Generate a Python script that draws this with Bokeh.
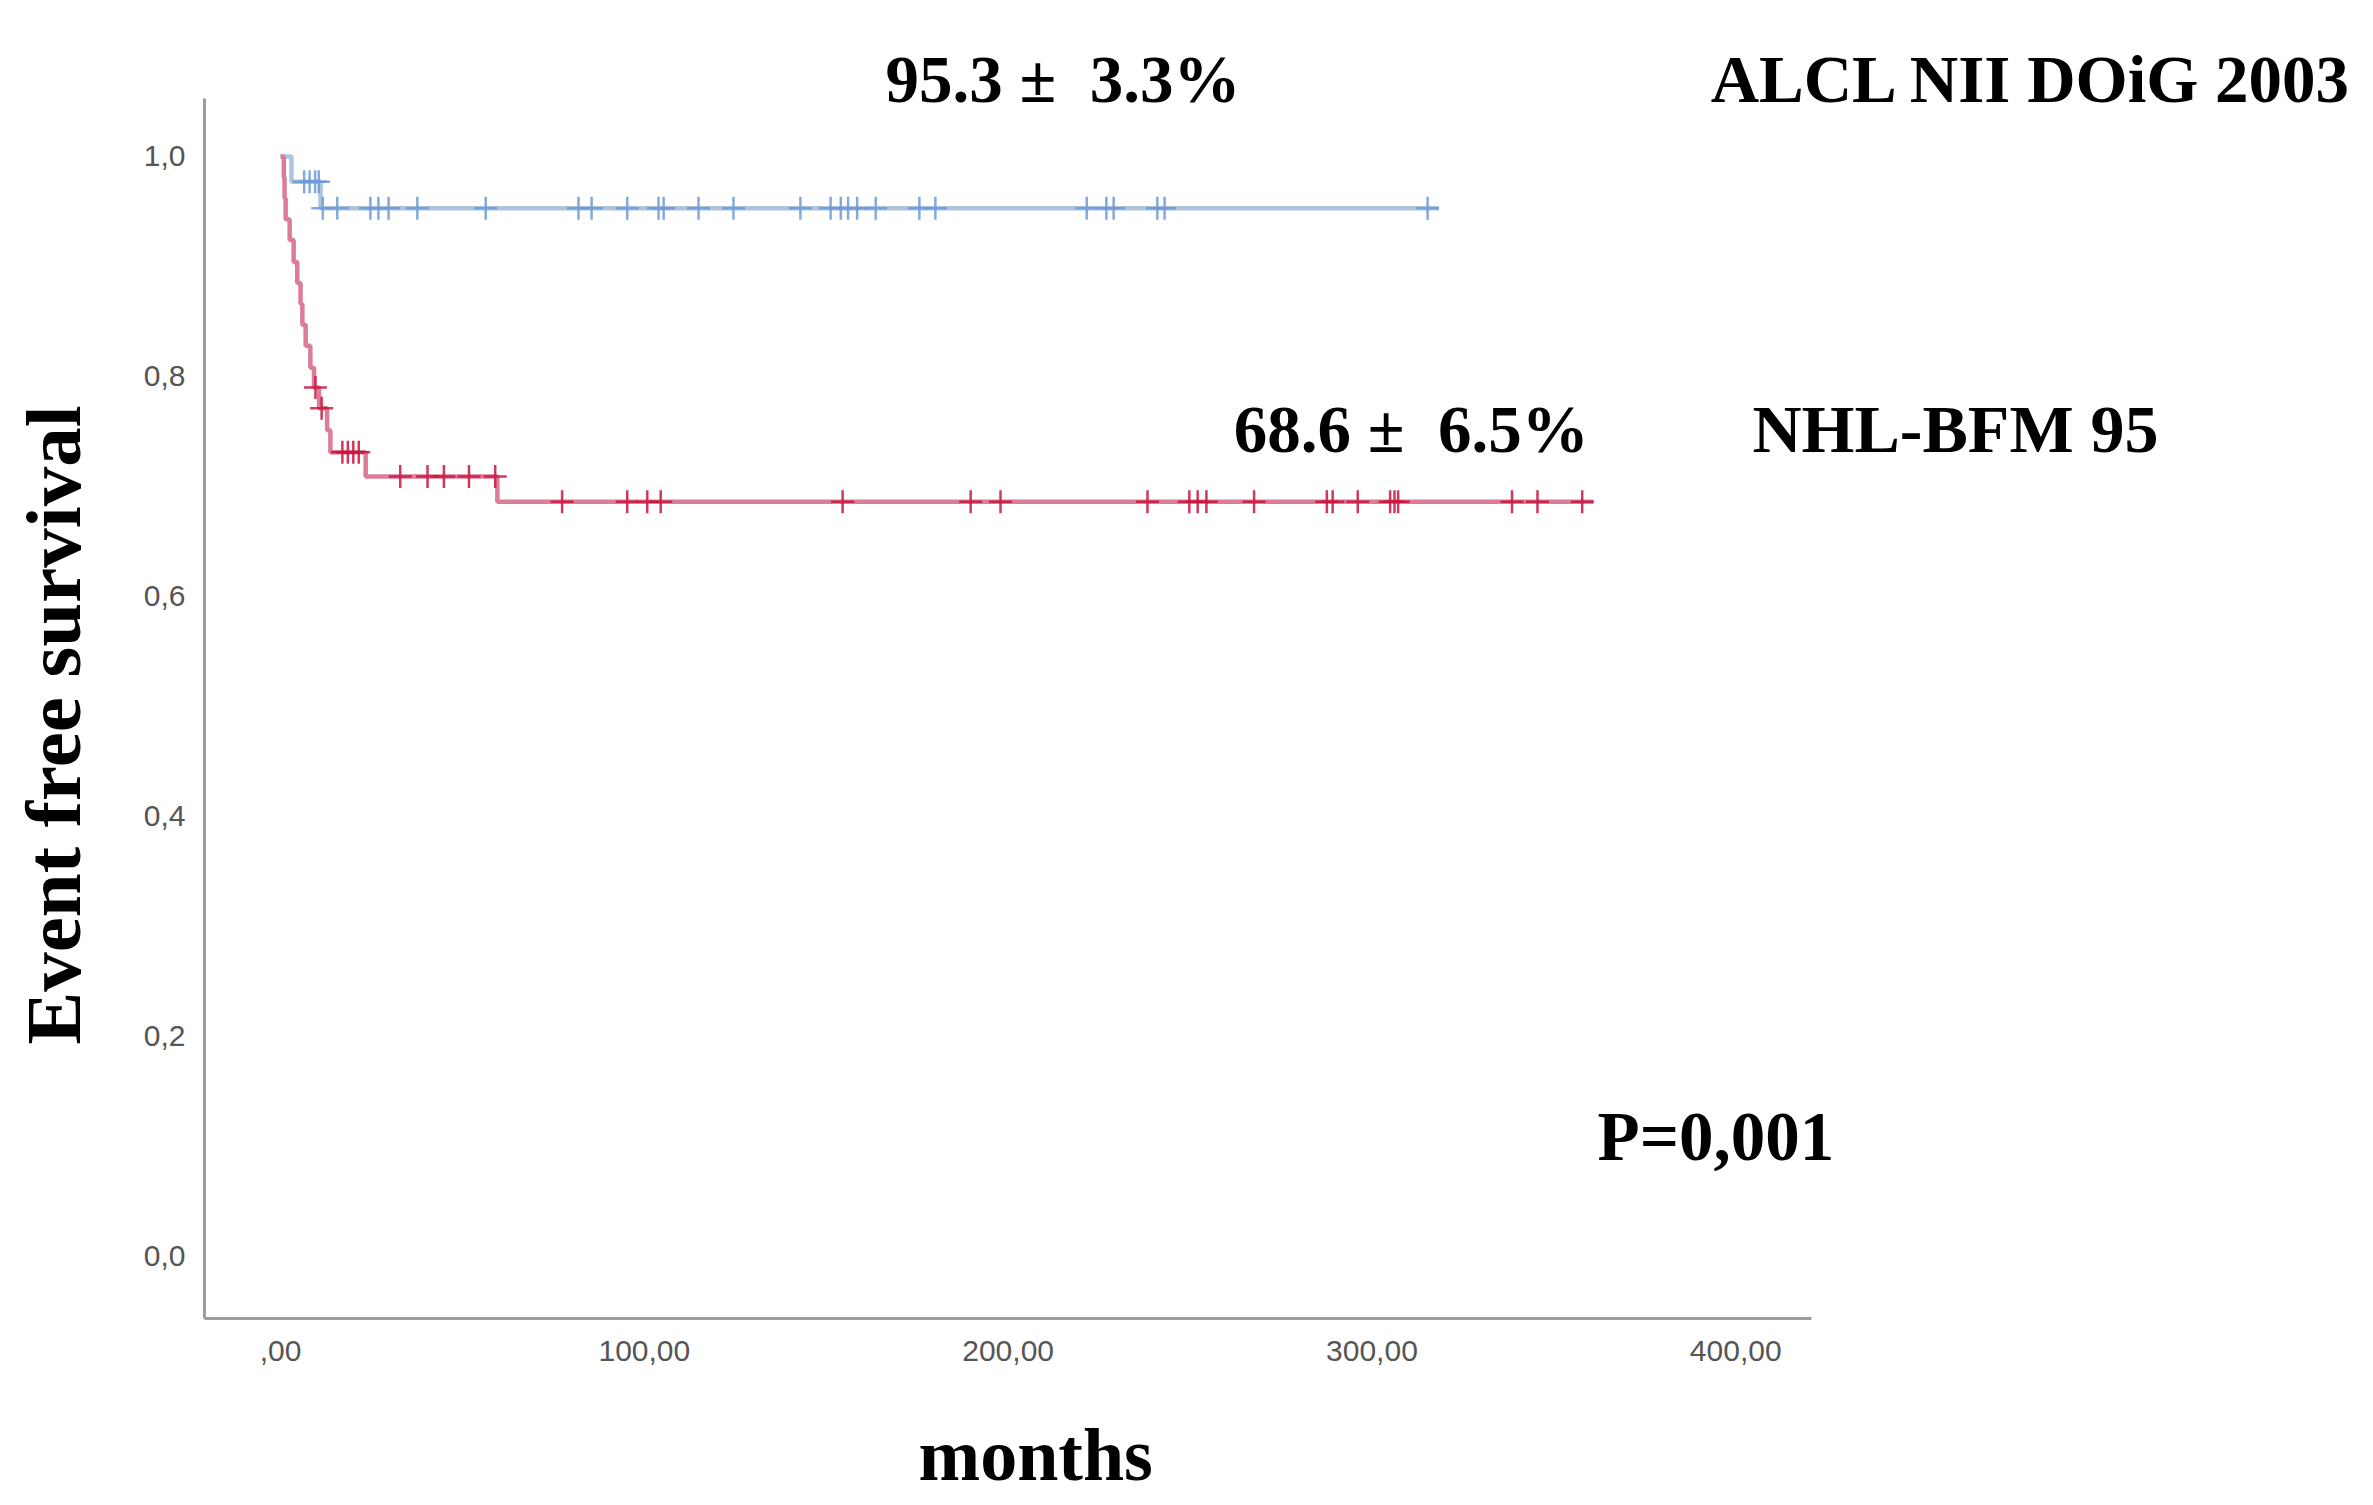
import numpy as np
from bokeh.plotting import figure
from bokeh.models import Range1d, FixedTicker, Label, Title
from bokeh.embed import file_html
from bokeh.resources import INLINE

# ---------------- data ----------------
# ALCL NII DOiG 2003 (blue)
blue_event_times = [0.0, 3.0, 11.0]
blue_surv = [1.0, 0.977, 0.953]
blue_end = 318.4
blue_cens_1 = [6.5, 8.0, 9.5, 10.5]                 # censored at 0.977
blue_cens_2 = [11.6, 15.6, 24.7, 26.9, 29.7, 37.6, 56.4, 81.9, 85.5, 95.3,
               103.9, 105.3, 114.9, 124.5, 142.9, 151.2, 154.0, 156.0, 158.5,
               163.6, 175.6, 180.0, 221.6, 227.0, 229.0, 241.0, 243.0, 315.3]

# NHL-BFM 95 (red)
red_event_times = [0.0, 0.9, 1.1, 1.4, 2.5, 3.6, 4.6, 5.5, 6.0, 6.9, 8.2,
                   9.2, 10.6, 12.8, 13.7, 23.4, 59.6]
red_surv = [1.0, 0.981, 0.962, 0.943, 0.924, 0.904, 0.885, 0.866, 0.847,
            0.828, 0.808, 0.790, 0.771, 0.751, 0.731, 0.709, 0.686]
red_end = 360.9
red_cens_times = [9.6, 11.3, 17.0, 18.5, 20.0, 21.5, 32.9, 40.4, 44.9, 51.8,
                  59.0, 77.4, 95.3, 100.8, 104.5, 154.5, 189.7, 197.9, 238.3,
                  249.8, 252.1, 254.5, 267.6, 287.6, 289.2, 296.1, 305.0,
                  306.2, 307.2, 338.5, 345.5, 357.8]

x_ticks = [0, 100, 200, 300, 400]
x_tick_labels = [",00", "100,00", "200,00", "300,00", "400,00"]
y_ticks = [0.0, 0.2, 0.4, 0.6, 0.8, 1.0]
y_tick_labels = ["0,0", "0,2", "0,4", "0,6", "0,8", "1,0"]

x_axis_bounds = (-20.9, 420.8)
y_axis_bounds = (-0.0564, 1.0527)


def km_level(t, times, surv):
    idx = np.searchsorted(np.asarray(times), t, side="right") - 1
    return float(surv[max(idx, 0)])


# ---------------- figure ----------------
W, H = 2373, 1505
p = figure(width=W, height=H, output_backend="svg", toolbar_location=None,
           title=None,
           x_range=Range1d(-20.9, 575.3), y_range=Range1d(-0.0564, 1.1418),
           min_border_left=204, min_border_right=0,
           min_border_top=0, min_border_bottom=187)
p.background_fill_color = "white"
p.border_fill_color = "white"
p.outline_line_color = None
p.grid.visible = False

for ax in (p.xaxis[0], p.yaxis[0]):
    ax.axis_line_color = "#9c9c9c"
    ax.axis_line_width = 3
    ax.major_tick_line_color = None
    ax.minor_tick_line_color = None
    ax.major_tick_out = 0
    ax.major_tick_in = 0
    ax.major_label_text_font = "Liberation Sans"
    ax.major_label_text_font_size = "30px"
    ax.major_label_text_color = "#555555"

p.xaxis[0].bounds = x_axis_bounds
p.xaxis[0].ticker = FixedTicker(ticks=x_ticks)
p.xaxis[0].major_label_overrides = {t: l for t, l in zip(x_ticks, x_tick_labels)}
p.xaxis[0].major_label_standoff = 22
p.yaxis[0].bounds = y_axis_bounds
p.yaxis[0].ticker = FixedTicker(ticks=y_ticks)
p.yaxis[0].major_label_overrides = {t: l for t, l in zip(y_ticks, y_tick_labels)}
p.yaxis[0].major_label_standoff = 19

# ---------------- curves ----------------
bx = list(blue_event_times) + [blue_end]
by = list(blue_surv) + [blue_surv[-1]]
p.step(bx, by, mode="after", line_color="#aec3e2", line_width=4.5)

rx = list(red_event_times) + [red_end]
ry = list(red_surv) + [red_surv[-1]]
p.step(rx, ry, mode="after", line_color="#dc7c97", line_width=4.5)

bc_x = blue_cens_1 + blue_cens_2
bc_y = [km_level(t, blue_event_times, blue_surv) for t in bc_x]
p.scatter(bc_x, bc_y, marker="cross", size=23, line_color="#6f9ad6",
          line_width=2.5, line_alpha=0.85)

rc_y = [km_level(t, red_event_times, red_surv) for t in red_cens_times]
p.scatter(red_cens_times, rc_y, marker="cross", size=23, line_color="#c8163f",
          line_width=2.5, line_alpha=0.85)

# ---------------- texts ----------------
serif = "Liberation Serif"


def add_text(x, y, txt, size, align="left"):
    p.add_layout(Label(x=x, y=y, text=txt, text_font=serif,
                       text_font_style="bold", text_font_size=size,
                       text_color="black", text_align=align,
                       text_baseline="middle"))


add_text(166.3, 1.070, "95.3 \u00b1\u00a0 3.3%", "67px")
add_text(393.1, 1.070, "ALCL NII DOiG 2003", "67px")
add_text(262.0, 0.752, "68.6 \u00b1\u00a0 6.5%", "67px")
add_text(404.6, 0.752, "NHL-BFM 95", "68px")
add_text(362.0, 0.109, "P=0,001", "69px")

# padding given as (left, right, top, bottom)
p.add_layout(Title(text="months", align="left", offset=714,
                   vertical_align="top",
                   text_font=serif, text_font_style="bold",
                   text_font_size="74px", text_color="black", standoff=14,
                   padding=(0, 0, 43, 0)),
             "below")
p.add_layout(Title(text="Event free survival", align="left", offset=274,
                   vertical_align="bottom",
                   text_font=serif, text_font_style="bold",
                   text_font_size="79px", text_color="black", standoff=40,
                   padding=(0, 0, 0, 24)),
             "left")

open("out.html", "w").write(file_html(p, INLINE))
